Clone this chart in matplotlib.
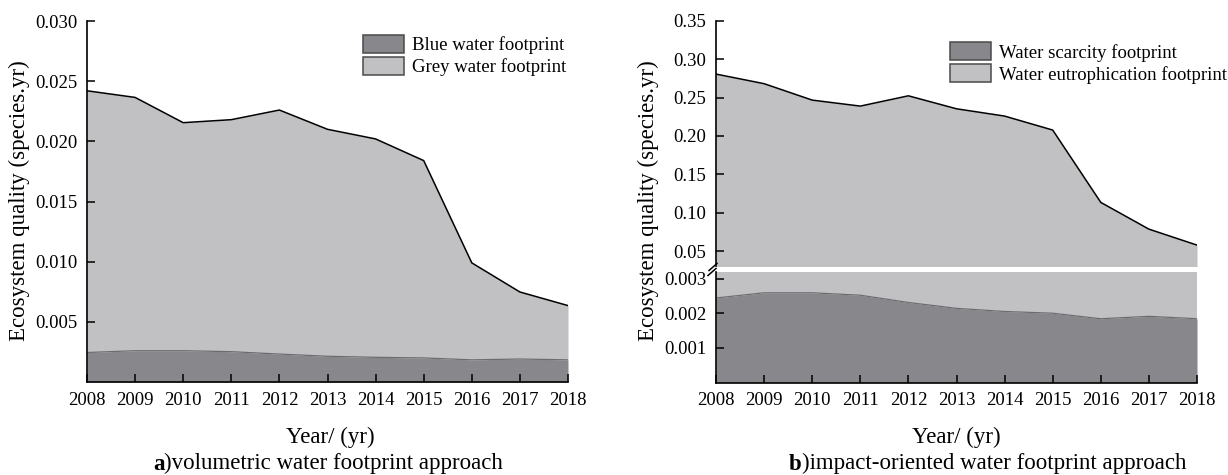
"""
Stacked area charts of ecosystem-quality water footprints, 2008-2018.
Panel a: volumetric approach; panel b: impact-oriented approach (broken y axis).
"""
import matplotlib; matplotlib.use("Agg")
import matplotlib.pyplot as plt
from matplotlib.patches import Patch

years = [2008, 2009, 2010, 2011, 2012, 2013, 2014, 2015, 2016, 2017, 2018]

# panel a
blue_wf  = [0.00245, 0.00260, 0.00260, 0.00252, 0.00232, 0.00214, 0.00205, 0.00200, 0.00184, 0.00191, 0.00184]
total_a  = [0.0242, 0.02365, 0.02155, 0.0218, 0.0226, 0.0210, 0.0202, 0.0184, 0.0099, 0.00748, 0.00635]
grey_wf  = [t - b for t, b in zip(total_a, blue_wf)]

# panel b
scarcity_wf = [0.00244, 0.00259, 0.00259, 0.00252, 0.00231, 0.00214, 0.00205, 0.00200, 0.00184, 0.00191, 0.00184]
total_b     = [0.2805, 0.268, 0.2466, 0.2388, 0.2522, 0.2353, 0.2258, 0.2076, 0.1134, 0.0786, 0.0578]
eutro_wf    = [t - s for t, s in zip(total_b, scarcity_wf)]

yticks_a     = [0.005, 0.010, 0.015, 0.020, 0.025, 0.030]
yticks_b_top = [0.05, 0.10, 0.15, 0.20, 0.25, 0.30, 0.35]
yticks_b_bot = [0.001, 0.002, 0.003]

DARK, LIGHT, EDGE = "#87878c", "#c1c1c3", "#6c6c70"
plt.rcParams["font.family"] = ["Liberation Serif", "DejaVu Serif"]
FS_TICK, FS_LAB = 13.5, 16.5

W, H = 1228, 475
fig = plt.figure(figsize=(W/100, H/100), dpi=100)

def px(x0, y0, x1, y1):
    # pixel box (top-left origin) -> figure fraction rect
    return [x0/W, 1 - y1/H, (x1-x0)/W, (y1-y0)/H]

def style(ax, bottom=True):
    for s in ["top", "right"]:
        ax.spines[s].set_visible(False)
    if not bottom:
        ax.spines["bottom"].set_visible(False)
    for s in ["left", "bottom"]:
        ax.spines[s].set_linewidth(1.2)
    ax.tick_params(direction="in", length=6, width=1.1, labelsize=FS_TICK, pad=7)
    ax.set_xlim(years[0], years[-1])

def stack(ax, lower, upper, total):
    ax.fill_between(years, 0, lower, color=DARK, lw=0)
    ax.fill_between(years, lower, total, color=LIGHT, lw=0)
    ax.plot(years, lower, color=EDGE, lw=0.9)
    ax.plot(years, total, color="black", lw=1.1)

def legend(ax, labels, anchor):
    ax.legend(handles=[Patch(facecolor=DARK, edgecolor="#4a4a4a", lw=1.1, label=labels[0]),
                       Patch(facecolor=LIGHT, edgecolor="#4a4a4a", lw=1.1, label=labels[1])],
              loc="upper left", bbox_to_anchor=anchor, frameon=False, fontsize=FS_TICK,
              borderpad=0, borderaxespad=0, handlelength=2.2, handleheight=1.1,
              labelspacing=0.15, handletextpad=0.4)

# ---- panel a
axa = fig.add_axes(px(87, 21, 568, 382))
stack(axa, blue_wf, grey_wf, total_a)
axa.set_ylim(0, 0.030)
axa.set_yticks(yticks_a)
axa.set_yticklabels([f"{v:.3f}" for v in yticks_a])
axa.set_xticks(years)
style(axa)
legend(axa, ["Blue water footprint", "Grey water footprint"], (0.574, 0.962))

# ---- panel b (broken axis)
axt = fig.add_axes(px(716, 20.7, 1197, 266))
axb = fig.add_axes(px(716, 272, 1197, 382.5))
stack(axt, scarcity_wf, eutro_wf, total_b)
stack(axb, scarcity_wf, eutro_wf, total_b)
axt.set_ylim(0.0306, 0.35)
axb.set_ylim(0, 0.00319)
axt.set_yticks(yticks_b_top)
axt.set_yticklabels([f"{v:.2f}" for v in yticks_b_top])
axb.set_yticks(yticks_b_bot)
axb.set_yticklabels([f"{v:.3f}" for v in yticks_b_bot])
style(axt, bottom=False)
style(axb)
axt.set_xticks([])
axb.set_xticks(years)
legend(axt, ["Water scarcity footprint", "Water eutrophication footprint"], (0.4865, 0.912))

# break marks on the left spine
for (x0, y0, x1, y1) in [(709, 270.5, 717, 263.5), (708, 275.5, 716, 268.5)]:
    fig.add_artist(plt.Line2D([x0/W, x1/W], [1 - y0/H, 1 - y1/H], color="black", lw=1.1))

# ---- labels
for x in [19, 648]:
    fig.text(x/W, 1 - 201/H, "Ecosystem quality (species.yr)", rotation=90,
             ha="center", va="center", fontsize=FS_LAB)
for x in [330, 956]:
    fig.text(x/W, 1 - 437/H, "Year/ (yr)", ha="center", va="center", fontsize=FS_LAB)

for x, tag, rest in [(153, "a", ")volumetric water footprint approach"),
                     (789, "b", ")impact-oriented water footprint approach")]:
    t = fig.text(x/W, 1 - 464/H, tag, ha="left", va="center", fontsize=FS_LAB, fontweight="bold")
    axa.annotate(rest, xy=(1, 0), xycoords=t, ha="left", va="bottom",
                 fontsize=FS_LAB, annotation_clip=False)

fig.savefig("out.png", dpi=100)
plt.close(fig)
